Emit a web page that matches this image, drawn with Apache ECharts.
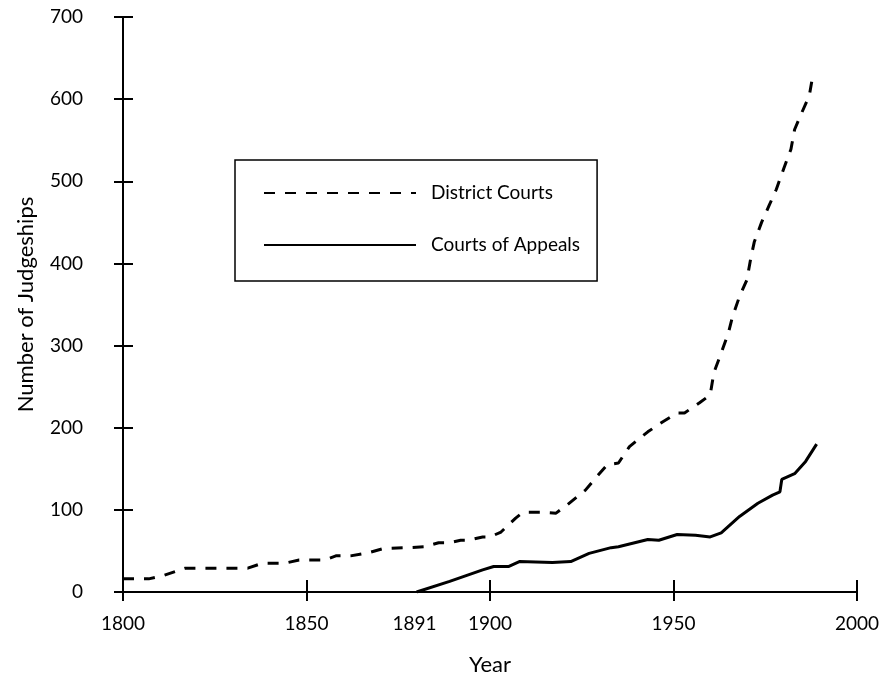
<!DOCTYPE html>
<html>
<head>
<meta charset="utf-8">
<script src="https://cdn.jsdelivr.net/npm/echarts@6/dist/echarts.min.js"></script>
<style>html,body{margin:0;padding:0;background:#fff}#c{width:884px;height:681px}</style>
</head>
<body>
<div id="c"></div>
<script>
var districtYears  = [1800,1807,1811,1817,1834,1838,1844,1848,1855,1858,1862,1867,1871,1878,1882,1886,1889,1892,1894,1898,1900,1903,1907,1909,1914,1918,1921,1926,1929,1932,1935,1938,1943,1947,1951,1953,1957,1960,1961,1963,1965,1966,1968,1970,1971,1972,1974,1976,1978,1980,1982,1983,1985,1987,1988];
var districtValues = [16,16,20,29,29,35,35,39,39,44,44,48,53,54,55,60,60,63,63,67,67,73,90,97,97,96,106,124,140,155,157,177,195,207,218,218,230,240,267,291,316,334,360,380,405,426,450,470,490,515,539,563,584,604,630];
var appealsYears   = [1880,1889,1898,1901,1905,1908,1917,1922,1927,1933,1935,1943,1946,1951,1956,1960,1963,1968,1973,1977,1979,1979.5,1980,1983,1986,1989];
var appealsValues  = [0,13,27,31,31,37,36,37,47,54,55,64,63,70,69,67,72,92,108,118,122,137,139,144,159,180];
var xTicks = [1800,1850,1900,1950,2000];
var yTicks = [0,100,200,300,400,500,600,700];
var startLabel = '1891';
var seriesNames = ['District Courts','Courts of Appeals'];

var FONT = "Lato,'Open Sans',sans-serif";
var FS = 19;
var NFS = 22;
function zip(a,b){return a.map(function(v,i){return [v,b[i]];});}

var chart = echarts.init(document.getElementById('c'));
var baseX = {type:'value', min:xTicks[0], max:xTicks[xTicks.length-1], interval:50, splitLine:{show:false}};
var baseY = {type:'value', min:yTicks[0], max:yTicks[yTicks.length-1], interval:100, splitLine:{show:false}};
chart.setOption({
  backgroundColor:'#fff',
  animation:false,
  grid:{left:123, right:27, top:17, bottom:89},
  legend:{
    orient:'vertical', left:235, top:160,
    padding:[23,17,26,28], itemGap:32, itemWidth:152, itemHeight:20,
    borderColor:'#000', borderWidth:1.5,
    itemStyle:{color:'transparent', borderColor:'transparent', borderWidth:0, opacity:0},
    textStyle:{fontFamily:FONT, fontSize:FS, color:'#000', lineHeight:20, padding:[0,0,0,10]},
    data:seriesNames
  },
  xAxis:[
    Object.assign({}, baseX, {
      position:'bottom',
      name:'Year', nameLocation:'middle', nameGap:62,
      nameTextStyle:{fontFamily:FONT, fontSize:NFS, color:'#000'},
      axisLine:{show:true, lineStyle:{color:'#000', width:2}},
      axisTick:{show:true, inside:false, length:9, lineStyle:{color:'#000', width:2}},
      axisLabel:{show:true, margin:22, fontFamily:FONT, fontSize:FS, color:'#000', formatter:function(v){return String(v);}}
    }),
    Object.assign({}, baseX, {
      position:'bottom', offset:0,
      axisLine:{show:false},
      axisTick:{show:true, inside:true, length:12, lineStyle:{color:'#000', width:2}},
      axisLabel:{show:false}
    })
  ],
  yAxis:[
    Object.assign({}, baseY, {
      position:'left',
      name:'Number of Judgeships', nameLocation:'middle', nameGap:86,
      nameTextStyle:{fontFamily:FONT, fontSize:NFS, color:'#000'},
      axisLine:{show:true, lineStyle:{color:'#000', width:2}},
      axisTick:{show:true, inside:false, length:9, lineStyle:{color:'#000', width:2}},
      axisLabel:{show:true, margin:40, fontFamily:FONT, fontSize:FS, color:'#000', formatter:function(v){return String(v);}}
    }),
    Object.assign({}, baseY, {
      position:'left', offset:0,
      axisLine:{show:false},
      axisTick:{show:true, inside:true, length:10, lineStyle:{color:'#000', width:2}},
      axisLabel:{show:false}
    })
  ],
  series:[
    {name:seriesNames[0], type:'line', xAxisIndex:0, yAxisIndex:0, symbol:'none',
     lineStyle:{color:'#000', width:3, type:[11,10]}, itemStyle:{color:'#000'},
     data:zip(districtYears, districtValues)},
    {name:seriesNames[1], type:'line', xAxisIndex:0, yAxisIndex:0, symbol:'none',
     lineStyle:{color:'#000', width:3, type:'solid'}, itemStyle:{color:'#000'},
     data:zip(appealsYears, appealsValues),
     markPoint:{
       symbol:'circle', symbolSize:0, silent:true,
       label:{show:true, position:'bottom', distance:22, offset:[-2,0], formatter:startLabel, fontFamily:FONT, fontSize:FS, color:'#000'},
       data:[{coord:[appealsYears[0], appealsValues[0]], value:startLabel}]
     }}
  ]
});
</script>
</body>
</html>
